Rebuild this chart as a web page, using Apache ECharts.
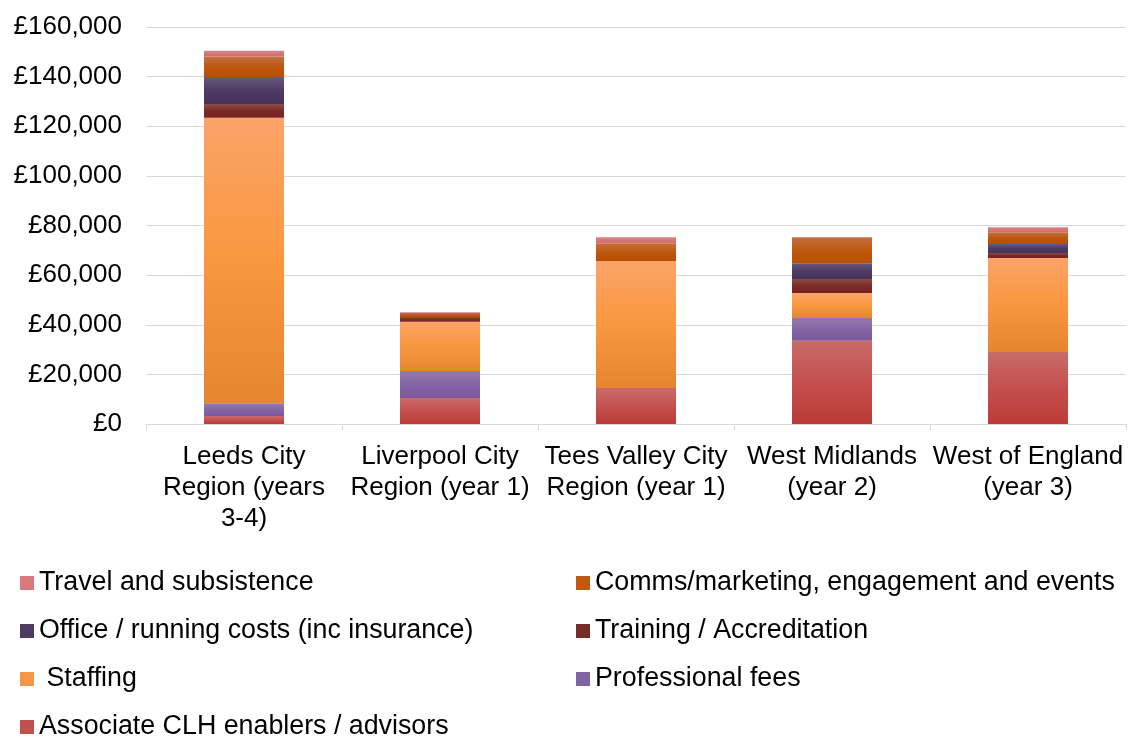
<!DOCTYPE html>
<html>
<head>
<meta charset="utf-8">
<script src="https://cdn.jsdelivr.net/npm/echarts@6/dist/echarts.min.js"></script>
<style>html,body{margin:0;padding:0;background:#fff}#c{width:1129px;height:736px}</style>
</head>
<body>
<div id="c"></div>
<script>
const categories = ['Leeds City\nRegion (years\n3-4)', 'Liverpool City\nRegion (year 1)', 'Tees Valley City\nRegion (year 1)', 'West Midlands\n(year 2)', 'West of England\n(year 3)'];
const associate = [3200, 10500, 14500, 33600, 29000];
const professional = [5200, 10900, 0, 9100, 0];
const staffing = [115000, 19800, 51200, 10100, 37900];
const training = [5600, 1900, 0, 5600, 2000];
const office = [10800, 0, 0, 6400, 3600];
const comms = [8300, 1600, 7100, 10500, 4800];
const travel = [2300, 300, 2500, 0, 2000];
const yTicks = [0, 20000, 40000, 60000, 80000, 100000, 120000, 140000, 160000];

const FONT = 'Liberation Sans, Arial, sans-serif';
function grad(stops) {
  return new echarts.graphic.LinearGradient(0, 0, 0, 1, stops.map((c, i) => ({offset: i / (stops.length - 1), color: c})));
}
const defs = [
  {name: 'Associate CLH enablers / advisors', data: associate, g: ['#C96C6A', '#C4504E', '#BC3A38'], solid: '#C0504D'},
  {name: 'Professional fees', data: professional, g: ['#957AAE', '#8566A5', '#7A579C'], solid: '#8064A2'},
  {name: ' Staffing', data: staffing, g: ['#FBA468', '#F9973F', '#E5862E'], solid: '#F79646'},
  {name: 'Training / Accreditation', data: training, g: ['#8A4D47', '#7C2A27', '#752222'], solid: '#772C2A'},
  {name: 'Office / running costs (inc insurance)', data: office, g: ['#68577A', '#4D3B65', '#45335C'], solid: '#4D3B62'},
  {name: 'Comms/marketing, engagement and events', data: comms, g: ['#C5703F', '#BC5710', '#B84F00'], solid: '#BE5A10'},
  {name: 'Travel and subsistence', data: travel, g: ['#DB8487', '#D4777A', '#CE6C6F'], solid: '#D9797C'}
];
const solidOf = {};
defs.forEach(d => solidOf[d.name] = d.solid);

const series = defs.map(d => ({
  name: d.name, type: 'bar', stack: 'total', barWidth: 80, data: d.data,
  itemStyle: {color: grad(d.g)}
}));

function legendItems(names) {
  return names.map(n => ({name: n, itemStyle: {color: solidOf[n]}}));
}
const legendCommon = {
  orient: 'vertical', itemWidth: 14, itemHeight: 14, itemGap: 18, icon: 'rect',
  padding: 0, height: 220,
  textStyle: {fontFamily: FONT, fontSize: 26.8, color: '#000', lineHeight: 30}
};

const chart = echarts.init(document.getElementById('c'), null, {renderer: 'canvas'});
chart.setOption({
  animation: false,
  backgroundColor: '#fff',
  grid: {left: 146, right: 3, top: 27, bottom: 312, containLabel: false},
  xAxis: {
    type: 'category', data: categories,
    axisLine: {lineStyle: {color: '#d9d9d9', width: 1}},
    axisTick: {show: true, length: 6, lineStyle: {color: '#d9d9d9'}, interval: 0},
    axisLabel: {fontFamily: FONT, fontSize: 26, color: '#000', lineHeight: 31, margin: 17, interval: 0}
  },
  yAxis: {
    type: 'value', min: yTicks[0], max: yTicks[yTicks.length - 1], interval: 20000,
    axisLine: {show: false}, axisTick: {show: false},
    splitLine: {lineStyle: {color: '#d9d9d9', width: 1}},
    axisLabel: {fontFamily: FONT, fontSize: 26, color: '#000', margin: 24,
      formatter: v => '£' + String(v).replace(/\B(?=(\d{3})+(?!\d))/g, ',')}
  },
  legend: [
    Object.assign({left: 20, top: 568, data: legendItems(['Travel and subsistence', 'Office / running costs (inc insurance)', ' Staffing', 'Associate CLH enablers / advisors'])}, legendCommon),
    Object.assign({left: 576, top: 568, data: legendItems(['Comms/marketing, engagement and events', 'Training / Accreditation', 'Professional fees'])}, legendCommon)
  ],
  series: series
});
</script>
</body>
</html>
